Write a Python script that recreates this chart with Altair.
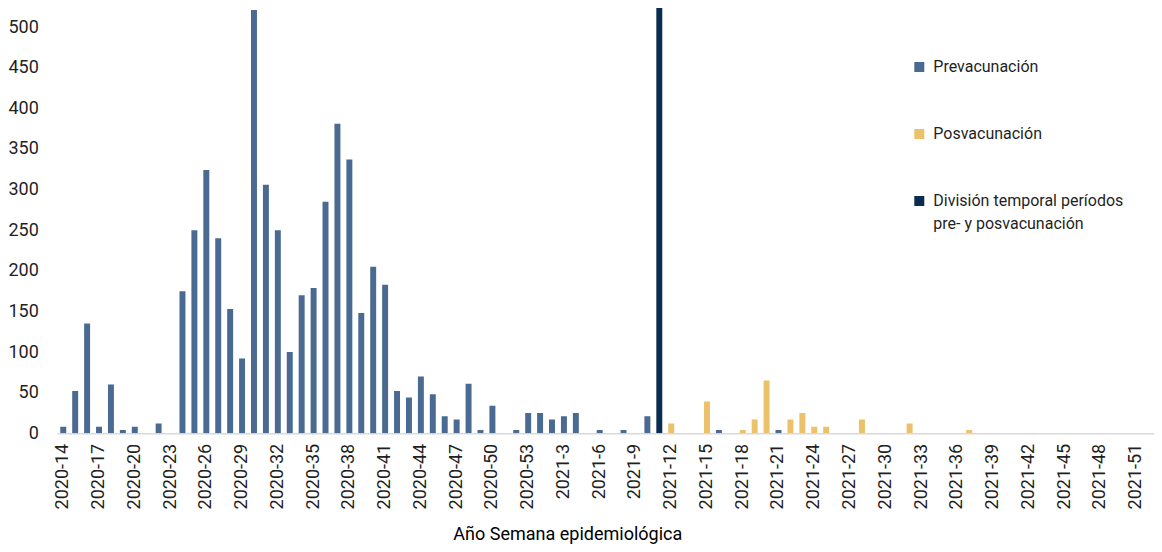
import altair as alt
import pandas as pd

# Categories: epidemiological weeks 2020-14 .. 2021-52
weeks = [f"2020-{w}" for w in range(14, 54)] + [f"2021-{w}" for w in range(1, 53)]
tick_labels = weeks[::3]

# Prevacunación values (by week label)
pre_weeks = ["2020-14", "2020-15", "2020-16", "2020-17", "2020-18", "2020-19", "2020-20",
             "2020-22", "2020-24", "2020-25", "2020-26", "2020-27", "2020-28", "2020-29",
             "2020-30", "2020-31", "2020-32", "2020-33", "2020-34", "2020-35", "2020-36",
             "2020-37", "2020-38", "2020-39", "2020-40", "2020-41", "2020-42", "2020-43",
             "2020-44", "2020-45", "2020-46", "2020-47", "2020-48", "2020-49", "2020-50",
             "2020-52", "2020-53", "2021-1", "2021-2", "2021-3", "2021-4", "2021-6",
             "2021-8", "2021-10", "2021-16", "2021-21"]
pre_values = [8, 52, 135, 8, 60, 4, 8,
              12, 175, 250, 324, 240, 153, 92,
              521, 306, 250, 100, 170, 179, 285,
              381, 337, 148, 205, 183, 52, 44,
              70, 48, 21, 17, 61, 4, 34,
              4, 25, 25, 17, 21, 25, 4,
              4, 21, 4, 4]

# Posvacunación values
post_weeks = ["2021-12", "2021-15", "2021-18", "2021-19", "2021-20", "2021-22", "2021-23",
              "2021-24", "2021-25", "2021-28", "2021-32", "2021-37"]
post_values = [12, 39, 4, 17, 65, 17, 25, 8, 8, 17, 12, 4]

# División temporal
div_weeks = ["2021-11"]
div_values = [525]

series_names = ["Prevacunación", "Posvacunación", "División temporal períodos pre- y posvacunación"]
series_colors = ["#4A6A92", "#EBC169", "#0A2D4F"]

rows = []
for w, v in zip(pre_weeks, pre_values):
    rows.append({"semana": w, "valor": v, "serie": series_names[0]})
for w, v in zip(post_weeks, post_values):
    rows.append({"semana": w, "valor": v, "serie": series_names[1]})
for w, v in zip(div_weeks, div_values):
    rows.append({"semana": w, "valor": v, "serie": series_names[2]})
df = pd.DataFrame(rows)

FONT = "Roboto"

chart = alt.Chart(df).mark_bar(clip=True).encode(
    x=alt.X("semana:N", sort=weeks,
            scale=alt.Scale(domain=weeks, paddingInner=0.5, paddingOuter=0.25),
            axis=alt.Axis(values=tick_labels, labelAngle=-90, ticks=False, tickSize=0,
                          labelPadding=10, domainColor="#D9D9D9", domainWidth=1.5,
                          labelFontSize=18, labelColor="#1F1F1F",
                          title="Año Semana epidemiológica", titleFontSize=18,
                          titleFontWeight="normal", titleColor="#000000",
                          titleX=510, titleY=101.5, titleAlign="center",
                          titleBaseline="middle", grid=False)),
    y=alt.Y("valor:Q",
            scale=alt.Scale(domain=[0, 523.5], nice=False, zero=True),
            axis=alt.Axis(values=list(range(0, 501, 50)), ticks=False, domain=False,
                          grid=False, labelPadding=19, labelFontSize=18,
                          labelColor="#1F1F1F", title=None)),
    color=alt.Color("serie:N",
                    scale=alt.Scale(domain=series_names, range=series_colors),
                    legend=alt.Legend(title=None, orient="none", legendX=854, legendY=51,
                                      direction="vertical", symbolType="square",
                                      symbolSize=100, symbolStrokeWidth=0,
                                      labelFontSize=16, labelColor="#1F1F1F",
                                      labelOffset=6, rowPadding=51, padding=0,
                                      labelLimit=400,
                                      labelExpr="datum.label == 'División temporal períodos pre- y posvacunación' ? ['División temporal períodos', 'pre- y posvacunación'] : datum.label")),
).properties(
    width=1096.7,
    height=425.3,
    padding={"left": 49.3, "top": 0, "right": 0, "bottom": 110.7},
    autosize=alt.AutoSizeParams(type="none"),
).configure(
    font=FONT,
    style={"guide-label": {"lineHeight": 23}},
).configure_view(
    stroke=None,
)

chart.save("out.html", embed_options={"renderer": "svg", "actions": False})
